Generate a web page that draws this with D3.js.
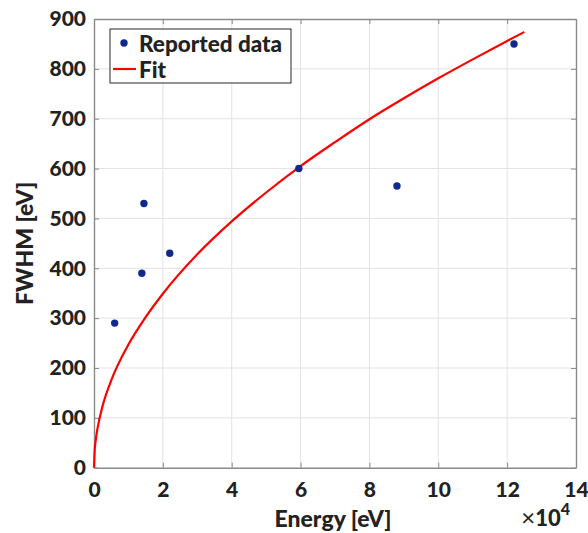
<!DOCTYPE html>
<html><head><meta charset="utf-8">
<script src="https://cdn.jsdelivr.net/npm/d3@7"></script>
<style>body{margin:0;background:#fff}svg{display:block}text{font-family:Lato,"Open Sans",sans-serif;font-weight:900;fill:#222}</style>
</head><body>
<script>
// Data (energy in units of 1e4 eV)
const dataE = [0.6, 1.39, 1.45, 2.2, 5.95, 8.8, 12.2];
const dataFWHM = [290, 390, 530, 430, 600, 565, 850];
// Fit curve
const fitE = [0, 0.02, 0.05, 0.1, 0.25, 0.5, 1, 1.5, 2, 3, 4, 5, 6, 7, 8, 9, 10, 11, 12, 12.5];
const fitY = [0, 35, 55, 78, 124, 175, 247, 302, 349, 428, 494, 552, 605, 653, 699, 741, 781, 819, 856, 874];
const xTicks = [0, 2, 4, 6, 8, 10, 12, 14];
const yTicks = [0, 100, 200, 300, 400, 500, 600, 700, 800, 900];
const legendLabels = ["Reported data", "Fit"];

const W = 588, H = 533;
const L = 94, R = 576, T = 19, B = 467.7;
const svg = d3.select("body").append("svg").attr("width", W).attr("height", H);
const x = d3.scaleLinear().domain([0, 14]).range([L, R]);
const y = d3.scaleLinear().domain([0, 900]).range([B, T]);

// grid
svg.append("g").selectAll("line").data(xTicks.slice(1, -1)).join("line")
  .attr("x1", d => x(d)).attr("x2", d => x(d)).attr("y1", T).attr("y2", B)
  .attr("stroke", "#e3e3e3").attr("stroke-width", 1);
svg.append("g").selectAll("line").data(yTicks.slice(1, -1)).join("line")
  .attr("y1", d => y(d)).attr("y2", d => y(d)).attr("x1", L).attr("x2", R)
  .attr("stroke", "#e3e3e3").attr("stroke-width", 1);

// axes
const ax = svg.append("g").attr("transform", `translate(0,${B})`)
  .call(d3.axisBottom(x).tickValues(xTicks).tickSizeInner(-5).tickSizeOuter(0).tickPadding(14.5));
const axT = svg.append("g").attr("transform", `translate(0,${T})`)
  .call(d3.axisTop(x).tickValues(xTicks).tickSizeInner(-5).tickSizeOuter(0).tickFormat(""));
const ay = svg.append("g").attr("transform", `translate(${L},0)`)
  .call(d3.axisLeft(y).tickValues(yTicks).tickSizeInner(-5).tickSizeOuter(0).tickPadding(8));
const ayR = svg.append("g").attr("transform", `translate(${R},0)`)
  .call(d3.axisRight(y).tickValues(yTicks).tickSizeInner(-5).tickSizeOuter(0).tickFormat(""));
[ax, axT, ay, ayR].forEach(g => {
  g.select(".domain").attr("stroke", "#8a8a8a").attr("stroke-width", 1.4);
  g.selectAll(".tick line").attr("stroke", "#8a8a8a").attr("stroke-width", 1);
  g.selectAll("text").style("font-size", "21px").style("font-family", "Lato, sans-serif").style("font-weight", "900").attr("fill", "#222");
});

// fit line
svg.append("path").datum(fitE.map((e, i) => [e, fitY[i]]))
  .attr("d", d3.line().x(d => x(d[0])).y(d => y(d[1])).curve(d3.curveMonotoneX))
  .attr("fill", "none").attr("stroke", "#ff0000").attr("stroke-width", 2.2);

// points
svg.append("g").selectAll("circle").data(dataE.map((e, i) => [e, dataFWHM[i]])).join("circle")
  .attr("cx", d => x(d[0])).attr("cy", d => y(d[1])).attr("r", 3.7).attr("fill", "#11298c");

// labels
svg.append("text").attr("x", 333).attr("y", 527).attr("text-anchor", "middle")
  .style("font-size", "23px").text("Energy [eV]");
svg.append("text").attr("transform", `translate(33,${(T + B) / 2}) rotate(-90)`).attr("text-anchor", "middle")
  .style("font-size", "23px").text("FWHM [eV]");
const mult = svg.append("text").attr("x", 570).attr("y", 526).attr("text-anchor", "end").style("font-size", "22px");
mult.append("tspan").style("font-weight", "normal").style("font-size", "24px").text("\u00d7");
mult.append("tspan").text("10");
mult.append("tspan").attr("dy", -11).style("font-size", "16px").text("4");

// legend
const lg = svg.append("g");
lg.append("rect").attr("x", 110).attr("y", 29).attr("width", 181).attr("height", 54)
  .attr("fill", "#fff").attr("stroke", "#262626").attr("stroke-width", 1);
lg.append("circle").attr("cx", 124).attr("cy", 43).attr("r", 3.7).attr("fill", "#11298c");
lg.append("line").attr("x1", 113).attr("x2", 136).attr("y1", 69).attr("y2", 69).attr("stroke", "#ff0000").attr("stroke-width", 2.2);
lg.selectAll("text.lt").data(legendLabels).join("text").attr("class", "lt")
  .attr("x", 139).attr("y", (d, i) => 51.5 + i * 26).style("font-size", "22.5px").text(d => d);
</script>
</body></html>
